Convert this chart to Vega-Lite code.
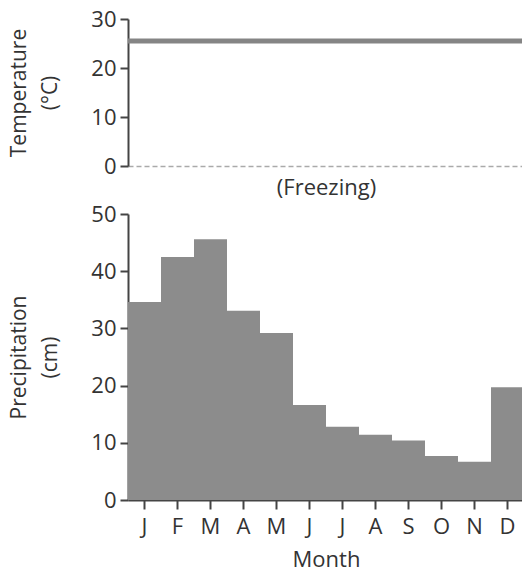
{
  "$schema": "https://vega.github.io/schema/vega-lite/v6.json",
  "padding": {"left": 8, "top": 8, "right": 0, "bottom": 5},
  "config": {
    "font": "Open Sans",
    "view": {"stroke": null},
    "axis": {
      "labelFont": "Open Sans", "labelFontSize": 22, "labelColor": "#333",
      "titleFont": "Open Sans", "titleFontSize": 21, "titleFontWeight": "normal", "titleColor": "#333",
      "domainColor": "#444", "domainWidth": 2, "tickColor": "#444", "tickWidth": 2, "tickSize": 8,
      "labelPadding": 4, "grid": false
    },
    "scale": {"bandPaddingInner": 0, "bandPaddingOuter": 0}
  },
  "data": {"values": [
    {"month": "Jan", "temp": 25.5, "precip": 34.6},
    {"month": "Feb", "temp": 25.5, "precip": 42.5},
    {"month": "Mar", "temp": 25.5, "precip": 45.6},
    {"month": "Apr", "temp": 25.5, "precip": 33.1},
    {"month": "May", "temp": 25.5, "precip": 29.2},
    {"month": "Jun", "temp": 25.5, "precip": 16.6},
    {"month": "Jul", "temp": 25.5, "precip": 12.8},
    {"month": "Aug", "temp": 25.5, "precip": 11.4},
    {"month": "Sep", "temp": 25.5, "precip": 10.4},
    {"month": "Oct", "temp": 25.5, "precip": 7.7},
    {"month": "Nov", "temp": 25.5, "precip": 6.7},
    {"month": "Dec", "temp": 25.5, "precip": 19.7}
  ]},
  "bounds": "flush",
  "spacing": 48,
  "vconcat": [
    {
      "width": 396, "height": 147,
      "mark": {"type": "tick", "color": "#858585", "opacity": 1, "thickness": 5, "size": 33},
      "encoding": {
        "x": {"field": "month", "type": "ordinal", "sort": null,
          "axis": {"labels": false, "ticks": false, "domainDash": [5, 3], "domainColor": "#aaa", "domainWidth": 1.5,
            "title": "(Freezing)", "titleFontSize": 22, "titlePadding": 11}},
        "y": {"field": "temp", "type": "quantitative", "scale": {"domain": [0, 30], "nice": false},
          "axis": {"values": [0, 10, 20, 30], "title": ["Temperature", "(°C)"], "titlePadding": 30, "titleLineHeight": 31}}
      }
    },
    {
      "width": 396, "height": 286,
      "mark": {"type": "bar", "color": "#8c8c8c"},
      "encoding": {
        "x": {"field": "month", "type": "ordinal", "sort": null,
          "axis": {"labelExpr": "substring(datum.label, 0, 1)", "labelAngle": 0, "tickSize": 9, "labelPadding": 7,
            "title": "Month", "titleFontSize": 22, "titlePadding": 12}},
        "y": {"field": "precip", "type": "quantitative", "scale": {"domain": [0, 50], "nice": false},
          "axis": {"values": [0, 10, 20, 30, 40, 50], "title": ["Precipitation", "(cm)"], "titlePadding": 30, "titleLineHeight": 31}}
      }
    }
  ]
}
